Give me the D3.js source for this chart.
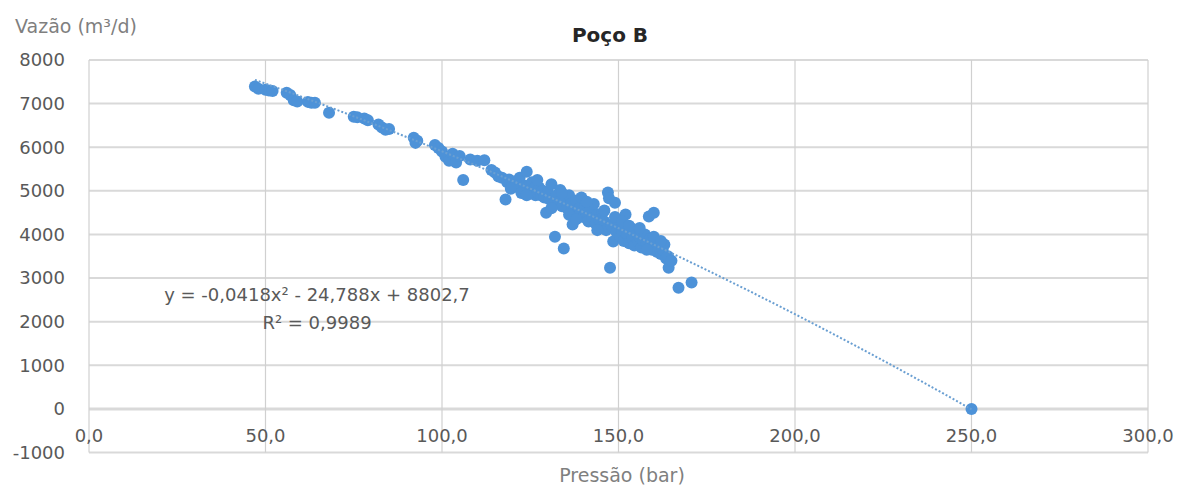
<!DOCTYPE html>
<html>
<head>
<meta charset="utf-8">
<script src="https://cdn.jsdelivr.net/npm/d3@7"></script>
<style>
  body { margin: 0; background: #fff; }
  text { font-family: "DejaVu Sans", Verdana, sans-serif; }
</style>
</head>
<body>
<div id="chart"></div>
<script>
// pressure (bar) readings
var pressao = [47, 48, 50, 51, 52, 56, 57, 58, 59, 62, 63, 64, 68, 75, 76, 78, 79, 82, 83, 84, 85,
  92, 93, 92.5, 98, 99, 100, 101, 102, 103, 104, 105, 106, 108, 110, 112,
  114, 115, 116, 117, 118, 118.5, 119, 120, 121, 121.5, 122, 123, 123.5, 124, 124.5, 125, 125.5,
  126, 126.5, 127, 127.5, 128, 128.5, 129, 129.5, 130, 130.5, 131, 131.5, 132, 132.5, 133, 133.5,
  134, 134.5, 135, 135.5, 136, 136.5, 137, 137.5, 138, 138.5, 139, 139.5, 140, 140.5, 141, 141.5,
  142, 142.5, 143, 143.5, 144, 144.5, 145, 145.5, 146, 146.5, 147, 147.3, 147.6, 148, 148.5, 149,
  149.5, 150, 150.5, 151, 151.5, 152, 152.5, 153, 153.5, 154, 154.5, 155, 155.5, 156, 156.5, 157,
  157.5, 158, 158.6, 159, 159.5, 160, 160.5, 161, 161.5, 162, 162.5, 163, 163.5, 164, 164.2, 165,
  167, 170.7, 250,
  119.5, 122.5, 127, 131, 134, 136, 138, 141, 144, 146, 149, 151, 153, 156, 158, 160, 162, 124];

// flow (m3/d) readings, same order
var vazao = [7390, 7340, 7320, 7300, 7290, 7250, 7200, 7080, 7050, 7040, 7020, 7020, 6790, 6700, 6690, 6660, 6620, 6520, 6450, 6400, 6420,
  6220, 6150, 6100, 6050, 5980, 5900, 5780, 5690, 5850, 5650, 5800, 5250, 5720, 5690, 5700,
  5480, 5420, 5330, 5300, 4800, 5200, 5260, 5150, 5190, 5080, 5300, 5000, 5120, 5440, 5100, 4980, 5200,
  5050, 4900, 4960, 5080, 4900, 5000, 4850, 4500, 4960, 4800, 5150, 4700, 3950, 4900, 4750, 5020,
  4650, 3680, 4800, 4600, 4900, 4700, 4230, 4550, 4780, 4480, 4600, 4850, 4400, 4650, 4500, 4300,
  4550, 4380, 4700, 4250, 4450, 4350, 4150, 4500, 4300, 4100, 4960, 4830, 3240, 4200, 3840, 4730,
  4050, 4250, 3950, 4100, 3850, 4460, 4000, 3800, 4150, 3900, 3750, 4050, 3850, 3950, 3700, 3850,
  4000, 3780, 4410, 3900, 3650, 4500, 3800, 3600, 3700, 3550, 3650, 3770, 3450, 3500, 3240, 3400,
  2780, 2900, 0,
  5050, 4950, 5250, 4600, 4950, 4450, 4350, 4750, 4100, 4550, 4400, 4300, 4200, 4150, 3650, 3950, 3850, 4900];

// trendline y = a*x^2 + b*x + c (as printed on the chart)
var trendCoef = [-0.0418, -24.788, 8802.7];
var trendLabel = ["y = -0,0418x\u00b2 - 24,788x + 8802,7", "R\u00b2 = 0,9989"];

var xTicks = [0, 50, 100, 150, 200, 250, 300];
var yTicks = [-1000, 0, 1000, 2000, 3000, 4000, 5000, 6000, 7000, 8000];

var svgWidth = 1178;
var svgHeight = 491;

var svg = d3.select("#chart")
  .append("svg")
  .attr("width", svgWidth)
  .attr("height", svgHeight);

var xScale = d3.scaleLinear().domain([0, 300]).range([89, 1148]);
var yScale = d3.scaleLinear().domain([-1000, 8000]).range([452.6, 60]);

// gridlines
svg.append("g").selectAll("line")
  .data(yTicks)
  .enter()
  .append("line")
  .attr("x1", xScale(0))
  .attr("x2", xScale(300))
  .attr("y1", d => yScale(d))
  .attr("y2", d => yScale(d))
  .attr("stroke", "#d9d9d9")
  .attr("stroke-width", d => d === 0 ? 3 : 2);

svg.append("g").selectAll("line")
  .data(xTicks)
  .enter()
  .append("line")
  .attr("x1", d => xScale(d))
  .attr("x2", d => xScale(d))
  .attr("y1", yScale(8000))
  .attr("y2", yScale(-1000))
  .attr("stroke", "#d0d0d0")
  .attr("stroke-width", 1.2);

// tick labels
svg.append("g").selectAll("text")
  .data(yTicks)
  .enter()
  .append("text")
  .attr("x", 65)
  .attr("y", d => yScale(d))
  .attr("dy", "0.35em")
  .attr("text-anchor", "end")
  .attr("font-size", 18)
  .attr("fill", "#595959")
  .text(d => d);

svg.append("g").selectAll("text")
  .data(xTicks)
  .enter()
  .append("text")
  .attr("x", d => xScale(d))
  .attr("y", yScale(0) + 33)
  .attr("text-anchor", "middle")
  .attr("font-size", 18)
  .attr("fill", "#595959")
  .text(d => d3.format(".1f")(d).replace(".", ","));

// points
var pts = pressao.map((p, i) => ({ p: p, v: vazao[i] }));

svg.append("g").selectAll("circle")
  .data(pts)
  .enter()
  .append("circle")
  .attr("cx", d => xScale(d.p))
  .attr("cy", d => yScale(d.v))
  .attr("r", 6)
  .attr("fill", "#4d92d8");

// polynomial trendline over the data range
var trendX = d3.range(d3.min(pressao), d3.max(pressao) + 0.5, 1);
var trendLine = d3.line()
  .x(d => xScale(d))
  .y(d => yScale(trendCoef[0] * d * d + trendCoef[1] * d + trendCoef[2]));

svg.append("path")
  .datum(trendX)
  .attr("d", trendLine)
  .attr("fill", "none")
  .attr("stroke", "#6a9fd2")
  .attr("stroke-width", 2)
  .attr("stroke-dasharray", "2,2");

// trendline equation
svg.append("g").selectAll("text")
  .data(trendLabel)
  .enter()
  .append("text")
  .attr("x", 317)
  .attr("y", (d, i) => 301 + i * 28)
  .attr("text-anchor", "middle")
  .attr("font-size", 18)
  .attr("fill", "#595959")
  .text(d => d);

// titles
svg.append("text")
  .attr("x", 610)
  .attr("y", 42)
  .attr("text-anchor", "middle")
  .attr("font-size", 20)
  .attr("font-weight", "bold")
  .attr("fill", "#262626")
  .text("Poço B");

svg.append("text")
  .attr("x", 15)
  .attr("y", 33)
  .attr("font-size", 19)
  .attr("fill", "#7f7f7f")
  .text("Vazão (m³/d)");

svg.append("text")
  .attr("x", 622)
  .attr("y", 482)
  .attr("text-anchor", "middle")
  .attr("font-size", 19)
  .attr("fill", "#7f7f7f")
  .text("Pressão (bar)");
</script>
</body>
</html>
